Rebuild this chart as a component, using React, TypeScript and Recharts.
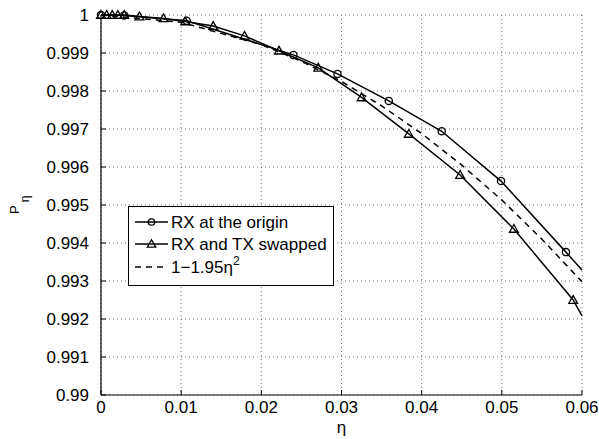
import React from 'react';
import { LineChart, Line, XAxis, YAxis, CartesianGrid, Legend } from 'recharts';

// ---- data ----
const originEta = [0, 0.0029, 0.0107, 0.024, 0.0295, 0.0359, 0.0425, 0.0499, 0.058, 0.06];
const originP = [1, 0.99999, 0.99985, 0.99895, 0.99845, 0.99774, 0.99694, 0.99563, 0.99376, 0.99329];

const swapEta = [0, 0.0007, 0.0014, 0.0021, 0.0029, 0.0048, 0.0078, 0.0105, 0.014, 0.0179, 0.0222, 0.0271, 0.0325, 0.0384, 0.0448, 0.0515, 0.0589, 0.06];
const swapP = [1, 1, 1, 1, 1, 0.99996, 0.99991, 0.99983, 0.99971, 0.99945, 0.99906, 0.99861, 0.99783, 0.99687, 0.99579, 0.99437, 0.9925, 0.99208];

const approxEta = [0, 0.01, 0.02, 0.025, 0.03, 0.035, 0.04, 0.045, 0.05, 0.055, 0.06];
const approxP = [1, 0.99981, 0.99922, 0.99878, 0.99825, 0.99761, 0.99688, 0.99605, 0.99513, 0.9941, 0.99298];

const xTicks = [0, 0.01, 0.02, 0.03, 0.04, 0.05, 0.06];
const xTickLabels = ['0', '0.01', '0.02', '0.03', '0.04', '0.05', '0.06'];
const yTicks = [0.99, 0.991, 0.992, 0.993, 0.994, 0.995, 0.996, 0.997, 0.998, 0.999, 1];
const yTickLabels = ['0.99', '0.991', '0.992', '0.993', '0.994', '0.995', '0.996', '0.997', '0.998', '0.999', '1'];

const seriesNames = ['RX at the origin', 'RX and TX swapped'];

const toRows = (xs: number[], ys: number[]) => xs.map((eta, i) => ({ eta, p: ys[i] }));
const originData = toRows(originEta, originP);
const swapData = toRows(swapEta, swapP);
const approxData = toRows(approxEta, approxP);

const FONT = '"Liberation Sans", Arial, Helvetica, sans-serif';
const X_MARGIN = 6;
const Y_MARGIN = 12;
const TICK_LEN = 5;

const labelFor = (ticks: number[], labels: string[], v: number) => {
  let best = 0;
  ticks.forEach((t, i) => {
    if (Math.abs(t - v) < Math.abs(ticks[best] - v)) best = i;
  });
  return labels[best];
};

const BottomTick = (props: any) => {
  const { x, y, payload } = props;
  const ay = y - X_MARGIN;
  return (
    <g>
      <line x1={x} x2={x} y1={ay} y2={ay - TICK_LEN} stroke="#000" strokeWidth={1} />
      <text x={x} y={y} dy="0.71em" textAnchor="middle" fontSize={17} fontFamily={FONT} fill="#000">
        {labelFor(xTicks, xTickLabels, payload.value)}
      </text>
    </g>
  );
};

const TopTick = (props: any) => {
  const { x, y } = props;
  return <line x1={x} x2={x} y1={y} y2={y + TICK_LEN} stroke="#000" strokeWidth={1} />;
};

const LeftTick = (props: any) => {
  const { x, y, payload } = props;
  const ax = x + Y_MARGIN;
  return (
    <g>
      <line x1={ax} x2={ax + TICK_LEN} y1={y} y2={y} stroke="#000" strokeWidth={1} />
      <text x={x} y={y} dy="0.36em" textAnchor="end" fontSize={17} fontFamily={FONT} fill="#000">
        {labelFor(yTicks, yTickLabels, payload.value)}
      </text>
    </g>
  );
};

const RightTick = (props: any) => {
  const { x, y } = props;
  return <line x1={x} x2={x - TICK_LEN} y1={y} y2={y} stroke="#000" strokeWidth={1} />;
};

const makeCircleDot = (len: number) => (props: any) => {
  const { cx, cy, index } = props;
  if (index === len - 1 || cx == null) return <g key={`c${index}`} />;
  return <circle key={`c${index}`} cx={cx} cy={cy} r={3.6} fill="none" stroke="#000" strokeWidth={1.3} />;
};

const trianglePath = (cx: number, cy: number, s: number) =>
  `M${cx},${cy - s} L${cx - s},${cy + s * 0.75} L${cx + s},${cy + s * 0.75} Z`;

const makeTriangleDot = (len: number) => (props: any) => {
  const { cx, cy, index } = props;
  if (index === len - 1 || cx == null) return <g key={`t${index}`} />;
  return <path key={`t${index}`} d={trianglePath(cx, cy, 4.4)} fill="none" stroke="#000" strokeWidth={1.3} />;
};

const renderLegend = () => (
  <svg width={206} height={80} style={{ display: 'block' }}>
    <rect x={0.5} y={0.5} width={205} height={79} fill="#fff" stroke="#000" strokeWidth={1} />
    <line x1={7} x2={40} y1={16} y2={16} stroke="#000" strokeWidth={1.5} />
    <circle cx={23.5} cy={16} r={3.2} fill="none" stroke="#000" strokeWidth={1.3} />
    <text x={43} y={16} dy="0.36em" fontSize={17} fontFamily={FONT} fill="#000">{seriesNames[0]}</text>
    <line x1={7} x2={40} y1={38} y2={38} stroke="#000" strokeWidth={1.5} />
    <path d={trianglePath(23.5, 38, 4.2)} fill="none" stroke="#000" strokeWidth={1.3} />
    <text x={43} y={38} dy="0.36em" fontSize={17} fontFamily={FONT} fill="#000">{seriesNames[1]}</text>
    <line x1={7} x2={40} y1={61} y2={61} stroke="#000" strokeWidth={1.5} strokeDasharray="6 5" />
    <text x={43} y={61} dy="0.36em" fontSize={17} fontFamily={FONT} fill="#000">
      1−1.95η<tspan dy={-8} fontSize={12}>2</tspan>
    </text>
  </svg>
);

const XLabel = (props: any) => {
  const { viewBox } = props;
  const cx = viewBox.x + viewBox.width / 2;
  return (
    <text x={cx} y={viewBox.y + 38} textAnchor="middle" fontSize={17} fontFamily={FONT} fill="#000">η</text>
  );
};

const YLabel = () => (
  <text transform="translate(19,214) rotate(-90)" fontSize={13} fontFamily={FONT} fill="#000">
    <tspan>P</tspan>
    <tspan dx={3} dy={10} fontSize={12}>η</tspan>
  </text>
);

export default function App() {
  return (
    <div style={{ position: 'absolute', left: 0, top: 0, width: 599, height: 439, background: '#fff', fontFamily: FONT }}>
      <LineChart width={599} height={439} margin={{ top: 15, right: 17, left: 0, bottom: 0 }}>
        <CartesianGrid stroke="#777" strokeDasharray="1 3" strokeWidth={1} xAxisId="bottom" yAxisId="left" />
        <XAxis
          xAxisId="bottom"
          dataKey="eta"
          type="number"
          domain={[0, 0.06]}
          ticks={xTicks}
          height={44}
          tickSize={0}
          tickMargin={X_MARGIN}
          tickLine={false}
          axisLine={{ stroke: '#000', strokeWidth: 1.2 }}
          tick={<BottomTick />}
          interval={0}
          label={<XLabel />}
        />
        <XAxis
          xAxisId="top"
          orientation="top"
          dataKey="eta"
          type="number"
          domain={[0, 0.06]}
          ticks={xTicks}
          height={0}
          tickSize={0}
          tickMargin={0}
          tickLine={false}
          axisLine={{ stroke: '#000', strokeWidth: 1 }}
          tick={<TopTick />}
          interval={0}
        />
        <YAxis
          yAxisId="left"
          type="number"
          domain={[0.99, 1]}
          ticks={yTicks}
          width={101}
          tickSize={0}
          tickMargin={Y_MARGIN}
          tickLine={false}
          axisLine={{ stroke: '#000', strokeWidth: 1.2 }}
          tick={<LeftTick />}
          interval={0}
          label={<YLabel />}
        />
        <YAxis
          yAxisId="right"
          orientation="right"
          type="number"
          domain={[0.99, 1]}
          ticks={yTicks}
          width={0}
          tickSize={0}
          tickMargin={0}
          tickLine={false}
          axisLine={{ stroke: '#000', strokeWidth: 1.2 }}
          tick={<RightTick />}
          interval={0}
        />
        <Legend
          layout="horizontal"
          verticalAlign="middle"
          align="center"
          content={renderLegend}
          wrapperStyle={{ position: 'absolute', left: 128, top: 206, width: 206, height: 80 }}
        />
        <Line
          xAxisId="bottom"
          yAxisId="left"
          data={approxData}
          dataKey="p"
          type="linear"
          stroke="#000"
          strokeWidth={1.5}
          strokeDasharray="6 5"
          dot={false}
          isAnimationActive={false}
          legendType="none"
        />
        <Line
          xAxisId="bottom"
          yAxisId="left"
          data={originData}
          dataKey="p"
          type="linear"
          stroke="#000"
          strokeWidth={1.5}
          dot={makeCircleDot(originData.length)}
          activeDot={false}
          isAnimationActive={false}
        />
        <Line
          xAxisId="bottom"
          yAxisId="left"
          data={swapData}
          dataKey="p"
          type="linear"
          stroke="#000"
          strokeWidth={1.5}
          dot={makeTriangleDot(swapData.length)}
          activeDot={false}
          isAnimationActive={false}
        />
      </LineChart>
    </div>
  );
}
